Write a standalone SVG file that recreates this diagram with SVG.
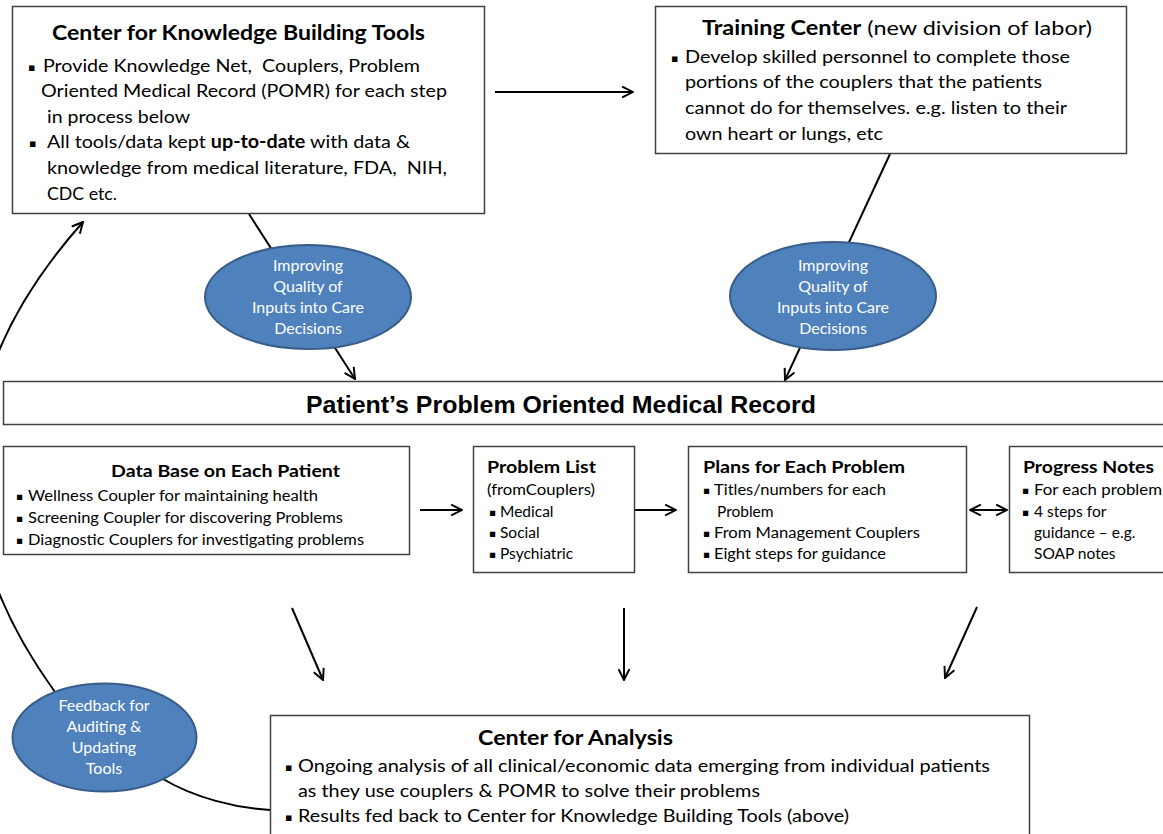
<svg xmlns="http://www.w3.org/2000/svg" width="1163" height="834" viewBox="0 0 1163 834">
<style>
text{font-family:Lato,"Open Sans","DejaVu Sans",sans-serif;fill:#000}
.box{fill:#fff;stroke:#404040;stroke-width:1.5}
.ell{fill:#4F81BD;stroke:#385D8A;stroke-width:2}
.et{fill:#fff;font-size:16px;text-anchor:middle}
.t1{font-size:21px;font-weight:bold}
.b1{font-size:18.2px}
.t2{font-size:17px;font-weight:bold}
.b2{font-size:15.5px}
.bul{font-family:"DejaVu Sans",sans-serif;font-size:11px}
.bul2{font-family:"DejaVu Sans",sans-serif;font-size:10.5px}
.con{fill:none;stroke:#000;stroke-width:2}
.ar{marker-end:url(#arr)}
</style>
<defs>
<marker id="arr" viewBox="0 0 12 12" refX="11" refY="6" markerWidth="13" markerHeight="13" markerUnits="userSpaceOnUse" orient="auto-start-reverse">
<path d="M1,1 L11,6 L1,11" fill="none" stroke="#000" stroke-width="1.8"/>
</marker>
</defs>
<rect width="1163" height="834" fill="#fff"/>

<g id="connectors">
<line class="con ar" x1="495" y1="92" x2="633" y2="92"/>
<line class="con ar" x1="249" y1="214" x2="355" y2="379"/>
<line class="con ar" x1="890" y1="154" x2="785" y2="380"/>
<line class="con ar" x1="420" y1="510" x2="462" y2="510"/>
<line class="con ar" x1="635" y1="510" x2="676" y2="510"/>
<line class="con" x1="970" y1="510" x2="1007" y2="510" marker-start="url(#arr)" marker-end="url(#arr)"/>
<line class="con ar" x1="292" y1="608" x2="323" y2="680"/>
<line class="con ar" x1="624" y1="608" x2="624" y2="680"/>
<line class="con ar" x1="977" y1="607" x2="945" y2="678"/>
<path class="con" d="M270,810 C236,808 195,798 163,779"/>
<path class="con ar" d="M55,692 Q-120,450 83,222"/>
</g>

<g id="knowledge-tools">
<rect class="box" x="12.5" y="6.5" width="472" height="207"/>
<text class="t1" x="52" y="40" textLength="373" lengthAdjust="spacingAndGlyphs">Center for Knowledge Building Tools</text>
<text class="bul" x="28" y="71">▪</text>
<text class="b1" x="43" y="72" textLength="377" lengthAdjust="spacingAndGlyphs" xml:space="preserve">Provide Knowledge Net,  Couplers, Problem</text>
<text class="b1" x="41" y="97" textLength="406" lengthAdjust="spacingAndGlyphs">Oriented Medical Record (POMR) for each step</text>
<text class="b1" x="47" y="123" textLength="143" lengthAdjust="spacingAndGlyphs">in process below</text>
<text class="bul" x="29" y="147">▪</text>
<text class="b1" x="47" y="148" textLength="363" lengthAdjust="spacingAndGlyphs">All tools/data kept <tspan font-weight="bold">up-to-date</tspan> with data &amp;</text>
<text class="b1" x="47" y="174" textLength="400" lengthAdjust="spacingAndGlyphs" xml:space="preserve">knowledge from medical literature, FDA,  NIH,</text>
<text class="b1" x="47" y="200" textLength="70" lengthAdjust="spacingAndGlyphs">CDC etc.</text>
</g>

<g id="training-center">
<rect class="box" x="655.5" y="6.5" width="471" height="147"/>
<text class="b1" x="702" y="35" textLength="390" lengthAdjust="spacingAndGlyphs" style="font-size:20px"><tspan font-weight="bold">Training Center</tspan> (new division of labor)</text>
<text class="bul" x="671" y="62">▪</text>
<text class="b1" x="685" y="63" textLength="385" lengthAdjust="spacingAndGlyphs">Develop skilled personnel to complete those</text>
<text class="b1" x="685" y="88" textLength="357" lengthAdjust="spacingAndGlyphs">portions of the couplers that the patients</text>
<text class="b1" x="685" y="114" textLength="382" lengthAdjust="spacingAndGlyphs">cannot do for themselves. e.g. listen to their</text>
<text class="b1" x="685" y="140" textLength="198" lengthAdjust="spacingAndGlyphs">own heart or lungs, etc</text>
</g>

<g id="improving-left">
<ellipse class="ell" cx="308" cy="297" rx="103" ry="52"/>
<text class="et" x="308" y="271">Improving</text>
<text class="et" x="308" y="292">Quality of</text>
<text class="et" x="308" y="313">Inputs into Care</text>
<text class="et" x="308" y="334">Decisions</text>
</g>

<g id="improving-right">
<ellipse class="ell" cx="833" cy="296" rx="103" ry="54"/>
<text class="et" x="833" y="271">Improving</text>
<text class="et" x="833" y="292">Quality of</text>
<text class="et" x="833" y="313">Inputs into Care</text>
<text class="et" x="833" y="334">Decisions</text>
</g>

<g id="pomr">
<rect class="box" x="3.5" y="381.5" width="1170" height="43"/>
<text x="306" y="413" textLength="510" lengthAdjust="spacingAndGlyphs" style="font-family:'Liberation Sans',Arial,sans-serif;font-weight:bold;font-size:24px">Patient’s Problem Oriented Medical Record</text>
</g>

<g id="database">
<rect class="box" x="3.5" y="446.5" width="406" height="108"/>
<text class="t2" x="111" y="477" textLength="229" lengthAdjust="spacingAndGlyphs">Data Base on Each Patient</text>
<text class="bul2" x="16" y="500">▪</text>
<text class="b2" x="28" y="501" textLength="290" lengthAdjust="spacingAndGlyphs">Wellness Coupler for maintaining health</text>
<text class="bul2" x="16" y="522">▪</text>
<text class="b2" x="28" y="523" textLength="315" lengthAdjust="spacingAndGlyphs">Screening Coupler for discovering Problems</text>
<text class="bul2" x="16" y="544">▪</text>
<text class="b2" x="28" y="545" textLength="336" lengthAdjust="spacingAndGlyphs">Diagnostic Couplers for investigating problems</text>
</g>

<g id="problem-list">
<rect class="box" x="473.5" y="446.5" width="161" height="126"/>
<text class="t2" x="487" y="473" textLength="109" lengthAdjust="spacingAndGlyphs">Problem List</text>
<text class="b2" x="487" y="495" textLength="108" lengthAdjust="spacingAndGlyphs">(fromCouplers)</text>
<text class="bul2" x="489" y="516">▪</text>
<text class="b2" x="500" y="517">Medical</text>
<text class="bul2" x="489" y="537">▪</text>
<text class="b2" x="500" y="538">Social</text>
<text class="bul2" x="489" y="558">▪</text>
<text class="b2" x="500" y="559">Psychiatric</text>
</g>

<g id="plans">
<rect class="box" x="688.5" y="446.5" width="278" height="126"/>
<text class="t2" x="703" y="473" textLength="202" lengthAdjust="spacingAndGlyphs">Plans for Each Problem</text>
<text class="bul2" x="703" y="494">▪</text>
<text class="b2" x="714" y="495" textLength="172" lengthAdjust="spacingAndGlyphs">Titles/numbers for each</text>
<text class="b2" x="717" y="517">Problem</text>
<text class="bul2" x="703" y="537">▪</text>
<text class="b2" x="714" y="538" textLength="206" lengthAdjust="spacingAndGlyphs">From Management Couplers</text>
<text class="bul2" x="703" y="558">▪</text>
<text class="b2" x="714" y="559" textLength="172" lengthAdjust="spacingAndGlyphs">Eight steps for guidance</text>
</g>

<g id="progress-notes">
<rect class="box" x="1009.5" y="446.5" width="170" height="126"/>
<text class="t2" x="1023" y="473" textLength="131" lengthAdjust="spacingAndGlyphs">Progress Notes</text>
<text class="bul2" x="1022" y="494">▪</text>
<text class="b2" x="1034" y="495" textLength="128" lengthAdjust="spacingAndGlyphs">For each problem</text>
<text class="bul2" x="1022" y="516">▪</text>
<text class="b2" x="1034" y="517">4 steps for</text>
<text class="b2" x="1034" y="538">guidance – e.g.</text>
<text class="b2" x="1034" y="559">SOAP notes</text>
</g>

<g id="feedback">
<ellipse class="ell" cx="104.5" cy="737.5" rx="92" ry="54"/>
<text class="et" x="104" y="711">Feedback for</text>
<text class="et" x="104" y="732">Auditing &amp;</text>
<text class="et" x="104" y="753">Updating</text>
<text class="et" x="104" y="774">Tools</text>
</g>

<g id="analysis">
<rect class="box" x="270.5" y="715.5" width="759" height="130"/>
<text class="t1" x="478" y="745" textLength="195" lengthAdjust="spacingAndGlyphs" style="font-size:20px">Center for Analysis</text>
<text class="bul" x="285" y="771">▪</text>
<text class="b1" x="298" y="772" textLength="692" lengthAdjust="spacingAndGlyphs">Ongoing analysis of all clinical/economic data emerging from individual patients</text>
<text class="b1" x="298" y="797" textLength="462" lengthAdjust="spacingAndGlyphs">as they use couplers &amp; POMR to solve their problems</text>
<text class="bul" x="285" y="821">▪</text>
<text class="b1" x="298" y="822" textLength="551" lengthAdjust="spacingAndGlyphs">Results fed back to Center for Knowledge Building Tools (above)</text>
</g>
</svg>
